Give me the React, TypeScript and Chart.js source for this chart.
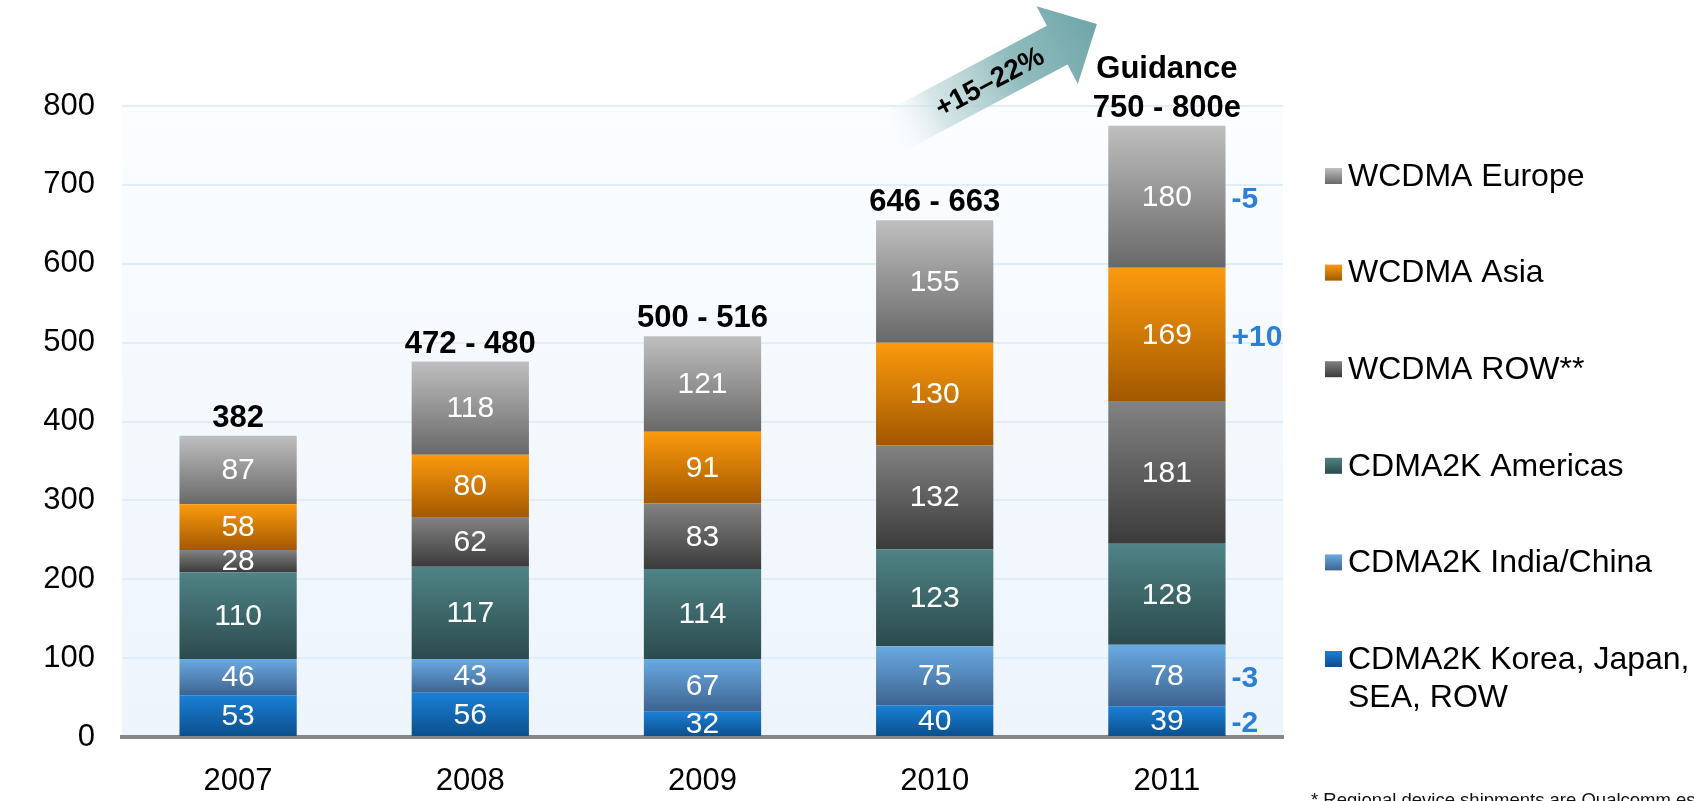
import React, { useEffect, useRef } from 'react';
import { Chart, registerables } from 'chart.js';

Chart.register(...registerables);

const FONT = '"Liberation Sans", Arial, Helvetica, sans-serif';

// Categories
const years = ['2007', '2008', '2009', '2010', '2011'];

// Series values (bottom to top of each stack)
const cdmaKorea = [53, 56, 32, 40, 39];
const cdmaIndiaChina = [46, 43, 67, 75, 78];
const cdmaAmericas = [110, 117, 114, 123, 128];
const wcdmaRow = [28, 62, 83, 132, 181];
const wcdmaAsia = [58, 80, 91, 130, 169];
const wcdmaEurope = [87, 118, 121, 155, 180];

// Series names
const seriesNames = [
  'CDMA2K Korea, Japan, SEA, ROW',
  'CDMA2K India/China',
  'CDMA2K Americas',
  'WCDMA ROW**',
  'WCDMA Asia',
  'WCDMA Europe',
];
const legendLines = [
  ['CDMA2K Korea, Japan,', 'SEA, ROW'],
  ['CDMA2K India/China'],
  ['CDMA2K Americas'],
  ['WCDMA ROW**'],
  ['WCDMA Asia'],
  ['WCDMA Europe'],
];
// gradient colours (top, bottom) per series
const seriesTop = ['#1a80d6', '#6aaae3', '#4f8385', '#828282', '#fc9a0e', '#bfbfbf'];
const seriesBottom = ['#0b4e8b', '#3d6390', '#2b4a4e', '#3b3b3b', '#a25800', '#686868'];

// Labels above each stack
const totalLabels = [['382'], ['472 - 480'], ['500 - 516'], ['646 - 663'], ['Guidance', '750 - 800e']];
// Change labels beside the 2011 stack, per series
const changes2011 = ['-2', '-3', '', '', '+10', '-5'];
const growthLabel = '+15\u201322%';
const footnote = '* Regional device shipments are Qualcomm estimates';

// Axis ticks
const yMin = 0;
const yMax = 800;
const yStep = 100;

function segmentGradient(idx: number) {
  return (ctx: any) => {
    const chart = ctx.chart;
    const area = chart.chartArea;
    if (!area || ctx.type !== 'data' || !chart.scales || !chart.scales.y) return seriesTop[idx];
    const di = ctx.dataIndex;
    let start = 0;
    for (let i = 0; i < ctx.datasetIndex; i++) start += chart.data.datasets[i].data[di] as number;
    const end = start + (chart.data.datasets[ctx.datasetIndex].data[di] as number);
    const yTop = chart.scales.y.getPixelForValue(end);
    const yBot = chart.scales.y.getPixelForValue(start);
    if (!isFinite(yTop) || !isFinite(yBot) || yTop === yBot) return seriesTop[idx];
    const g = chart.ctx.createLinearGradient(0, yTop, 0, yBot);
    g.addColorStop(0, seriesTop[idx]);
    g.addColorStop(1, seriesBottom[idx]);
    return g;
  };
}

const backgroundPlugin = {
  id: 'plotBackground',
  beforeDraw(chart: any) {
    const { ctx, chartArea: a } = chart;
    ctx.save();
    const g = ctx.createLinearGradient(0, a.top, 0, a.bottom);
    g.addColorStop(0, '#fbfdff');
    g.addColorStop(1, '#edf4fc');
    ctx.fillStyle = g;
    ctx.fillRect(a.left, a.top, a.right - a.left, a.bottom - a.top);
    ctx.restore();
  },
};

const labelsPlugin = {
  id: 'segmentLabels',
  afterDatasetsDraw(chart: any) {
    const { ctx } = chart;
    const n = chart.data.datasets.length;
    ctx.save();
    ctx.textAlign = 'center';
    ctx.textBaseline = 'middle';
    for (let d = 0; d < n; d++) {
      const meta = chart.getDatasetMeta(d);
      meta.data.forEach((el: any, i: number) => {
        const v = chart.data.datasets[d].data[i];
        ctx.font = `30px ${FONT}`;
        ctx.fillStyle = '#ffffff';
        ctx.fillText(String(v), el.x, (el.y + el.base) / 2 + 1);
        if (i === years.length - 1 && changes2011[d]) {
          ctx.save();
          ctx.textAlign = 'left';
          ctx.font = `bold 30px ${FONT}`;
          ctx.fillStyle = '#2b80d6';
          ctx.fillText(changes2011[d], el.x + el.width / 2 + 6, (el.y + el.base) / 2 + 3);
          ctx.restore();
        }
      });
    }
    // totals
    const topMeta = chart.getDatasetMeta(n - 1);
    topMeta.data.forEach((el: any, i: number) => {
      const lines = totalLabels[i];
      ctx.font = `bold 31px ${FONT}`;
      ctx.fillStyle = '#000000';
      ctx.textBaseline = 'alphabetic';
      for (let k = 0; k < lines.length; k++) {
        const off = (lines.length - 1 - k) * 39;
        ctx.fillText(lines[k], el.x, el.y - 9 - off);
      }
    });
    ctx.restore();
  },
};

const decorPlugin = {
  id: 'decor',
  afterDraw(chart: any) {
    const { ctx, chartArea: a } = chart;
    const xs = chart.scales.x;
    ctx.save();
    // growth arrow between 2010 and 2011 columns
    const tipX = xs.getPixelForValue(4) - 70;
    const tipY = a.top - 82;
    const ang = -28 * Math.PI / 180;
    const len = 240;
    const dx = Math.cos(ang), dy = Math.sin(ang);
    const px = -dy, py = dx;
    const tailX = tipX - dx * len, tailY = tipY - dy * len;
    const headLen = 45, shaftHalf = 22, headHalf = 44;
    const bx = tipX - dx * headLen, by = tipY - dy * headLen;
    const g = ctx.createLinearGradient(tailX, tailY, tipX, tipY);
    g.addColorStop(0, 'rgba(255,255,255,0)');
    g.addColorStop(0.25, 'rgba(200,221,222,0.75)');
    g.addColorStop(0.6, '#93bdbf');
    g.addColorStop(1, '#6ea6a9');
    ctx.fillStyle = g;
    ctx.beginPath();
    ctx.moveTo(tailX + px * shaftHalf, tailY + py * shaftHalf);
    ctx.lineTo(bx + px * shaftHalf, by + py * shaftHalf);
    ctx.lineTo(bx + px * headHalf, by + py * headHalf);
    ctx.lineTo(tipX, tipY);
    ctx.lineTo(bx - px * headHalf, by - py * headHalf);
    ctx.lineTo(bx - px * shaftHalf, by - py * shaftHalf);
    ctx.lineTo(tailX - px * shaftHalf, tailY - py * shaftHalf);
    ctx.closePath();
    ctx.fill();
    // growth text
    const tx = tipX - dx * 122, ty = tipY - dy * 122;
    ctx.translate(tx, ty);
    ctx.rotate(ang);
    ctx.font = `bold 28px ${FONT}`;
    ctx.fillStyle = '#000';
    ctx.textAlign = 'center';
    ctx.textBaseline = 'middle';
    ctx.fillText(growthLabel, 0, 2);
    ctx.setTransform(1, 0, 0, 1, 0, 0);

    // legend (top series first)
    const lx = a.right + 42;
    const ly0 = a.top + 70;
    const step = 96.6;
    const n = chart.data.datasets.length;
    for (let k = 0; k < n; k++) {
      const d = n - 1 - k;
      const cy = ly0 + k * step;
      const sg = ctx.createLinearGradient(0, cy - 8, 0, cy + 8);
      sg.addColorStop(0, seriesTop[d]);
      sg.addColorStop(1, seriesBottom[d]);
      ctx.fillStyle = sg;
      ctx.fillRect(lx, cy - 8, 17, 16);
      ctx.fillStyle = '#000';
      ctx.font = `32px ${FONT}`;
      ctx.textAlign = 'left';
      ctx.textBaseline = 'middle';
      legendLines[d].forEach((t, j) => ctx.fillText(t, lx + 23, cy + 1 + j * 38));
    }

    // footnote (cut by page edge)
    ctx.font = `18.5px ${FONT}`;
    ctx.fillStyle = '#111';
    ctx.textBaseline = 'top';
    ctx.textAlign = 'left';
    ctx.fillText(footnote, a.right + 28, chart.height - 9);
    ctx.restore();
  },
};

export default function App() {
  const ref = useRef<HTMLCanvasElement | null>(null);
  useEffect(() => {
    document.body.style.margin = '0';
    document.body.style.overflow = 'hidden';
    if (!ref.current) return;
    const series = [cdmaKorea, cdmaIndiaChina, cdmaAmericas, wcdmaRow, wcdmaAsia, wcdmaEurope];
    const chart = new Chart(ref.current, {
      type: 'bar',
      data: {
        labels: years,
        datasets: series.map((data, i) => ({
          label: seriesNames[i],
          data,
          backgroundColor: segmentGradient(i),
          borderWidth: 0,
          barPercentage: 0.505,
          categoryPercentage: 1,
        })),
      },
      options: {
        animation: false,
        responsive: false,
        maintainAspectRatio: false,
        layout: { padding: { top: 106, right: 411, left: 0, bottom: 0 } },
        plugins: { legend: { display: false }, tooltip: { enabled: false }, title: { display: false } },
        scales: {
          x: {
            stacked: true,
            grid: { display: false, drawTicks: false },
            border: { display: true, color: '#878787', width: 4 },
            ticks: { color: '#000', font: { family: FONT, size: 31 }, padding: 26 },
            afterFit: (s: any) => { s.height = 64; },
          },
          y: {
            stacked: true,
            min: yMin,
            max: yMax,
            grid: { color: '#e1eefa', lineWidth: 2, drawTicks: false },
            border: { display: false },
            ticks: { stepSize: yStep, color: '#000', font: { family: FONT, size: 31 }, padding: 27 },
            afterFit: (s: any) => { s.width = 122; },
          },
        },
      },
      plugins: [backgroundPlugin, labelsPlugin, decorPlugin],
    });
    return () => chart.destroy();
  }, []);
  return (
    <canvas ref={ref} width={1694} height={801} style={{ display: 'block', width: 1694, height: 801 }} />
  );
}
